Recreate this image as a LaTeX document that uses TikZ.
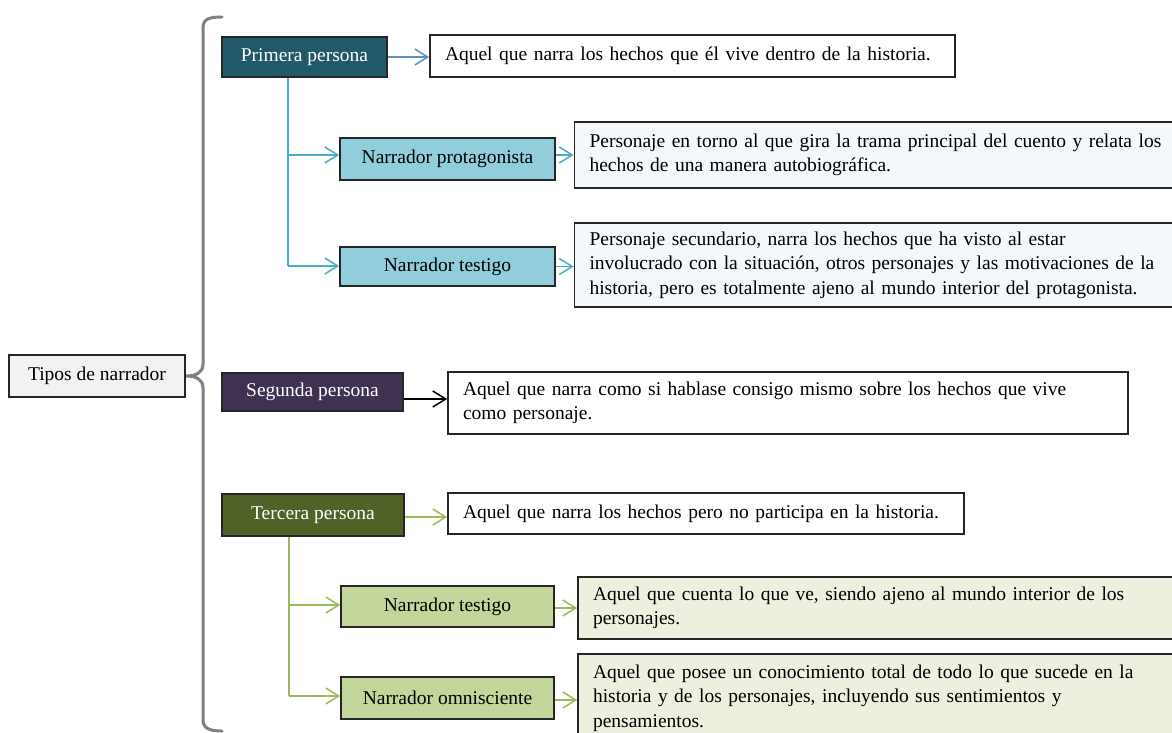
\documentclass[tikz,border=0pt]{standalone}
\usepackage{fontspec}
\setmainfont{Liberation Serif}
\usetikzlibrary{arrows.meta}
\definecolor{primfill}{HTML}{215968}
\definecolor{segfill}{HTML}{3F3151}
\definecolor{tercfill}{HTML}{4F6228}
\definecolor{bluemid}{HTML}{92CDDC}
\definecolor{bluelite}{HTML}{F2F8FB}
\definecolor{greenmid}{HTML}{C3D69B}
\definecolor{greenlite}{HTML}{EBF1DE}
\definecolor{graylite}{HTML}{F2F2F2}
\definecolor{blueline}{HTML}{4BACC6}
\definecolor{blueline2}{HTML}{5B8FC8}
\definecolor{greenline}{HTML}{9BBB59}
\definecolor{bordercol}{HTML}{262626}
\definecolor{bracketcol}{HTML}{808080}
\begin{document}
\begin{tikzpicture}[x=1pt,y=-1pt,
  every node/.style={font=\fontsize{19.5}{24.5}\selectfont},
  box/.style={draw=bordercol, line width=1.6pt, inner sep=0pt, align=center},
  desc/.style={draw=bordercol, line width=1.6pt, inner xsep=15pt, inner ysep=0pt, align=left},
  conn/.style={line width=1.5pt},
  arr/.style={conn, -{Straight Barb[length=13pt,width=16pt,line width=1.5pt]}}
]
\useasboundingbox (0,0) rectangle (1172,733);
\fill[white] (0,0) rectangle (1172,733);
\clip (0,0) rectangle (1172,733);

% bracket
\draw[bracketcol, line width=3pt, line cap=round]
  (222,17) .. controls (209,17) and (203,19) .. (203,28) -- (203,364)
  .. controls (203,372) and (197,376) .. (186,376)
  .. controls (197,376) and (203,380) .. (203,388) -- (203,720)
  .. controls (203,728) and (209,731) .. (222,731);

% root
\node[box, fill=graylite, minimum width=176pt, minimum height=42pt] (tipos) at (97,376) {Tipos de narrador};

% primera persona
\node[box, fill=primfill, text=white, minimum width=165pt, minimum height=40pt] (prim) at (304.5,57) {Primera persona};
\node[desc, fill=white, text width=495pt, minimum height=42pt] (d1) at (692.5,56) {Aquel que narra los hechos que él vive dentro de la historia.};
\node[box, fill=bluemid, minimum width=215pt, minimum height=42pt] (prot) at (447.5,159) {Narrador protagonista};
\node[desc, fill=bluelite, text width=580pt, minimum height=66pt] (d2) at (879.5,155) {Personaje en torno al que gira la trama principal del cuento y relata los\\hechos de una manera autobiográfica.};
\node[box, fill=bluemid, minimum width=215pt, minimum height=39pt] (test1) at (447.5,266.5) {Narrador testigo};
\node[desc, fill=bluelite, text width=580pt, minimum height=84pt] (d3) at (879.5,265) {Personaje secundario, narra los hechos que ha visto al estar\\involucrado con la situación, otros personajes y las motivaciones de la\\historia, pero es totalmente ajeno al mundo interior del protagonista.};

\coordinate (pb) at (288,77);
\coordinate (p1) at (288,155);
\coordinate (p2) at (288,266);
\draw[arr, blueline2] (prim.east) -- (prim.east -| d1.west);
\draw[conn, blueline] (prim.south -| pb) -- (p2);
\draw[arr, blueline] (p1) -- (p1 -| prot.west);
\draw[arr, blueline] (p2) -- (p2 -| test1.west);
\draw[arr, blueline] (prot.east |- d2.west) -- (d2.west);
\draw[arr, blueline] (test1.east) -- (test1.east -| d3.west);

% segunda persona
\node[box, fill=segfill, text=white, minimum width=181pt, minimum height=38pt] (seg) at (312.5,392) {Segunda persona};
\node[desc, fill=white, text width=650pt, minimum height=62pt] (d4) at (788,403) {Aquel que narra como si hablase consigo mismo sobre los hechos que vive\\como personaje.};
\draw[arr, black] ([yshift=-7pt]seg.east) -- ([yshift=-7pt]seg.east -| d4.west);

% tercera persona
\node[box, fill=tercfill, text=white, minimum width=182pt, minimum height=42pt] (terc) at (313,515) {Tercera persona};
\node[desc, fill=white, text width=486pt, minimum height=41pt] (d5) at (706,513.5) {Aquel que narra los hechos pero no participa en la historia.};
\node[box, fill=greenmid, minimum width=213pt, minimum height=41pt] (test2) at (447.5,606.5) {Narrador testigo};
\node[desc, fill=greenlite, text width=572pt, minimum height=62pt] (d6) at (879,608) {Aquel que cuenta lo que ve, siendo ajeno al mundo interior de los\\personajes.};
\node[box, fill=greenmid, minimum width=213pt, minimum height=42pt] (omn) at (447.5,698) {Narrador omnisciente};
\node[desc, fill=greenlite, text width=572pt, minimum height=88pt] (d7) at (879,698) {Aquel que posee un conocimiento total de todo lo que sucede en la\\historia y de los personajes, incluyendo sus sentimientos y\\pensamientos.};

\coordinate (tb) at (289,536);
\coordinate (t1) at (289,605);
\coordinate (t2) at (289,696);
\draw[arr, greenline] ([yshift=-2pt]terc.east) -- ([yshift=-2pt]terc.east -| d5.west);
\draw[conn, greenline] (terc.south -| tb) -- (t2);
\draw[arr, greenline] (t1) -- (t1 -| test2.west);
\draw[arr, greenline] (t2) -- (t2 -| omn.west);
\draw[arr, greenline] ([yshift=-1.5pt]test2.east) -- ([yshift=-1.5pt]test2.east -| d6.west);
\draw[arr, greenline] ([yshift=-2pt]omn.east) -- ([yshift=-2pt]omn.east -| d7.west);
\end{tikzpicture}
\end{document}
